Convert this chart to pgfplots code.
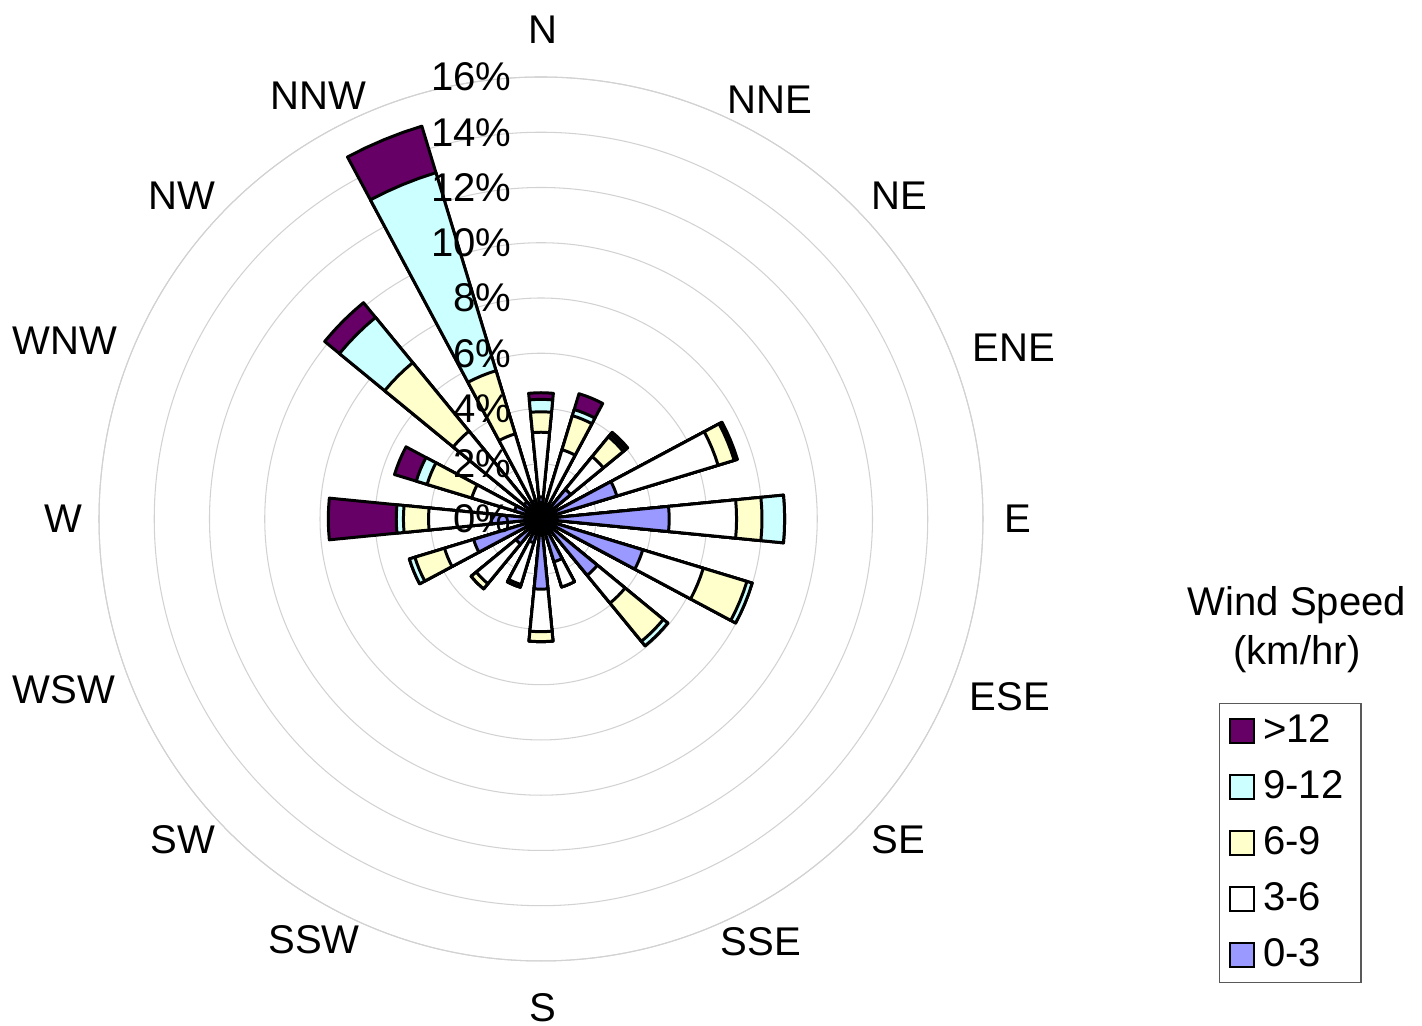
\documentclass[border=0pt]{standalone}
\usepackage{fontspec}
\setmainfont{Liberation Sans}
\usepackage{pgfplots}
\usepackage{pgfplotstable}
\pgfplotsset{compat=1.18}
\usepgfplotslibrary{polar}

\definecolor{sp5}{HTML}{660066}
\definecolor{sp4}{HTML}{CCFFFF}
\definecolor{sp3}{HTML}{FFFFCC}
\definecolor{sp2}{HTML}{FFFFFF}
\definecolor{sp1}{HTML}{9999FF}

% frequency (%) per speed class, theta = polar angle (N = 90, E = 0)
\pgfplotstableread{
theta  b     w     y     c     p
90     0.80  2.34  0.74  0.45  0.24
67.5   0.50  2.12  1.29  0.23  0.60
45     1.39  1.53  0.93  0.10  0.11
22.5   2.87  3.83  0.61  0.09  0.03
0      4.64  2.44  0.92  0.82  0.00
-22.5  3.85  2.29  1.65  0.20  0.00
-45    2.64  1.30  1.79  0.21  0.00
-67.5  1.62  0.95  0.00  0.00  0.00
-90    2.54  1.54  0.36  0.00  0.00
-112.5 0.90  1.58  0.10  0.00  0.00
-135   1.17  1.86  0.24  0.00  0.00
-157.5 2.55  1.10  1.12  0.21  0.00
180    1.80  2.27  0.91  0.26  2.46
157.5  1.00  1.62  1.69  0.41  0.82
135    0.80  3.31  3.21  2.12  0.69
112.5  0.70  2.52  2.39  7.49  1.76
}\rose

\pgfplotsset{rosewedge/.style={draw=black, line width=0.85pt, line join=round, forget plot}}

% wedge from the centre out to radius #3, centred on angle #2
\newcommand\wedgeplot[3]{%
  \pgfmathsetmacro\aA{#2-5.625}\pgfmathsetmacro\aB{#2-2.8125}%
  \pgfmathsetmacro\aC{#2+2.8125}\pgfmathsetmacro\aD{#2+5.625}%
  \edef\tmp{\noexpand\addplot[rosewedge, fill=#1] coordinates
    {(0,0) (\aA,#3) (\aB,#3) (#2,#3) (\aC,#3) (\aD,#3)} -- cycle;}%
  \tmp}

\begin{document}
\fontsize{11.4}{13.9}\selectfont
\begin{tikzpicture}
\begin{polaraxis}[
    scale only axis, clip=false,
    width=8.84cm, height=8.84cm,
    ymin=0, ymax=16,
    xtick=\empty,
    ytick={0,2,...,16},
    yticklabels={,,,,,,,,},
    major tick length=0pt,
    ymajorgrids=true,
    grid style={gray!35, line width=0.3pt},
    axis line style={gray!35, line width=0.3pt},
    y axis line style={draw=none},
    legend style={at={(axis cs:0,0)}, anchor=north west,
        xshift=6.78cm, yshift=-1.84cm,
        draw=black!65, line width=0.4pt, inner xsep=0.09cm, inner ysep=0cm,
        row sep=0.01cm,
        nodes={inner xsep=0.085cm, inner ysep=0.085cm, text height=0.3cm, text depth=0.08cm}},
    legend cell align=left,
    legend image code/.code={\draw[#1, line width=0.6pt] (0cm,-0.12cm) rectangle (0.24cm,0.12cm);},
]
\pgfplotsinvokeforeach{0,...,15}{%
  \pgfplotstablegetelem{#1}{theta}\of\rose \edef\dA{\pgfplotsretval}%
  \pgfplotstablegetelem{#1}{b}\of\rose \edef\vB{\pgfplotsretval}%
  \pgfplotstablegetelem{#1}{w}\of\rose \edef\vW{\pgfplotsretval}%
  \pgfplotstablegetelem{#1}{y}\of\rose \edef\vY{\pgfplotsretval}%
  \pgfplotstablegetelem{#1}{c}\of\rose \edef\vC{\pgfplotsretval}%
  \pgfplotstablegetelem{#1}{p}\of\rose \edef\vP{\pgfplotsretval}%
  \pgfmathsetmacro\cW{\vB+\vW}%
  \pgfmathsetmacro\cY{\cW+\vY}%
  \pgfmathsetmacro\cC{\cY+\vC}%
  \pgfmathsetmacro\cP{\cC+\vP}%
  \wedgeplot{sp5}{\dA}{\cP}%
  \wedgeplot{sp4}{\dA}{\cC}%
  \wedgeplot{sp3}{\dA}{\cY}%
  \wedgeplot{sp2}{\dA}{\cW}%
  \wedgeplot{sp1}{\dA}{\vB}%
}
\addlegendimage{fill=sp5, draw=black}\addlegendentry{>12}
\addlegendimage{fill=sp4, draw=black}\addlegendentry{9-12}
\addlegendimage{fill=sp3, draw=black}\addlegendentry{6-9}
\addlegendimage{fill=sp2, draw=black}\addlegendentry{3-6}
\addlegendimage{fill=sp1, draw=black}\addlegendentry{0-3}

\coordinate (C) at (axis cs:0,0);
% radial labels along the north line
\node[anchor=east, inner sep=0pt, xshift=-0.29cm] at (axis cs:90,0) {0\%};
\node[anchor=east, inner sep=0pt, xshift=-0.29cm] at (axis cs:90,2) {2\%};
\node[anchor=east, inner sep=0pt, xshift=-0.29cm] at (axis cs:90,4) {4\%};
\node[anchor=east, inner sep=0pt, xshift=-0.29cm] at (axis cs:90,6) {6\%};
\node[anchor=east, inner sep=0pt, xshift=-0.29cm] at (axis cs:90,8) {8\%};
\node[anchor=east, inner sep=0pt, xshift=-0.29cm] at (axis cs:90,10) {10\%};
\node[anchor=east, inner sep=0pt, xshift=-0.29cm] at (axis cs:90,12) {12\%};
\node[anchor=east, inner sep=0pt, xshift=-0.29cm] at (axis cs:90,14) {14\%};
\node[anchor=east, inner sep=0pt, xshift=-0.29cm] at (axis cs:90,16) {16\%};
\end{polaraxis}
% direction labels
\node at ([shift={(0.02cm,4.89cm)}]C) {N};
\node at ([shift={(2.29cm,4.19cm)}]C) {NNE};
\node at ([shift={(3.58cm,3.23cm)}]C) {NE};
\node at ([shift={(4.73cm,1.71cm)}]C) {ENE};
\node at ([shift={(4.77cm,0cm)}]C) {E};
\node at ([shift={(4.69cm,-1.78cm)}]C) {ESE};
\node at ([shift={(3.57cm,-3.21cm)}]C) {SE};
\node at ([shift={(2.20cm,-4.23cm)}]C) {SSE};
\node at ([shift={(0.02cm,-4.89cm)}]C) {S};
\node at ([shift={(-2.27cm,-4.21cm)}]C) {SSW};
\node at ([shift={(-3.58cm,-3.21cm)}]C) {SW};
\node at ([shift={(-4.77cm,-1.71cm)}]C) {WSW};
\node at ([shift={(-4.78cm,0cm)}]C) {W};
\node at ([shift={(-4.76cm,1.78cm)}]C) {WNW};
\node at ([shift={(-3.59cm,3.23cm)}]C) {NW};
\node at ([shift={(-2.23cm,4.23cm)}]C) {NNW};
\node[align=center, inner sep=0pt] at ([shift={(7.56cm,-1.11cm)}]C) {Wind Speed\\(km/hr)};
\pgfresetboundingbox
\path[use as bounding box] ([shift={(-5.41cm,-5.07cm)}]C) rectangle ([shift={(8.81cm,5.19cm)}]C);
\end{tikzpicture}
\end{document}
